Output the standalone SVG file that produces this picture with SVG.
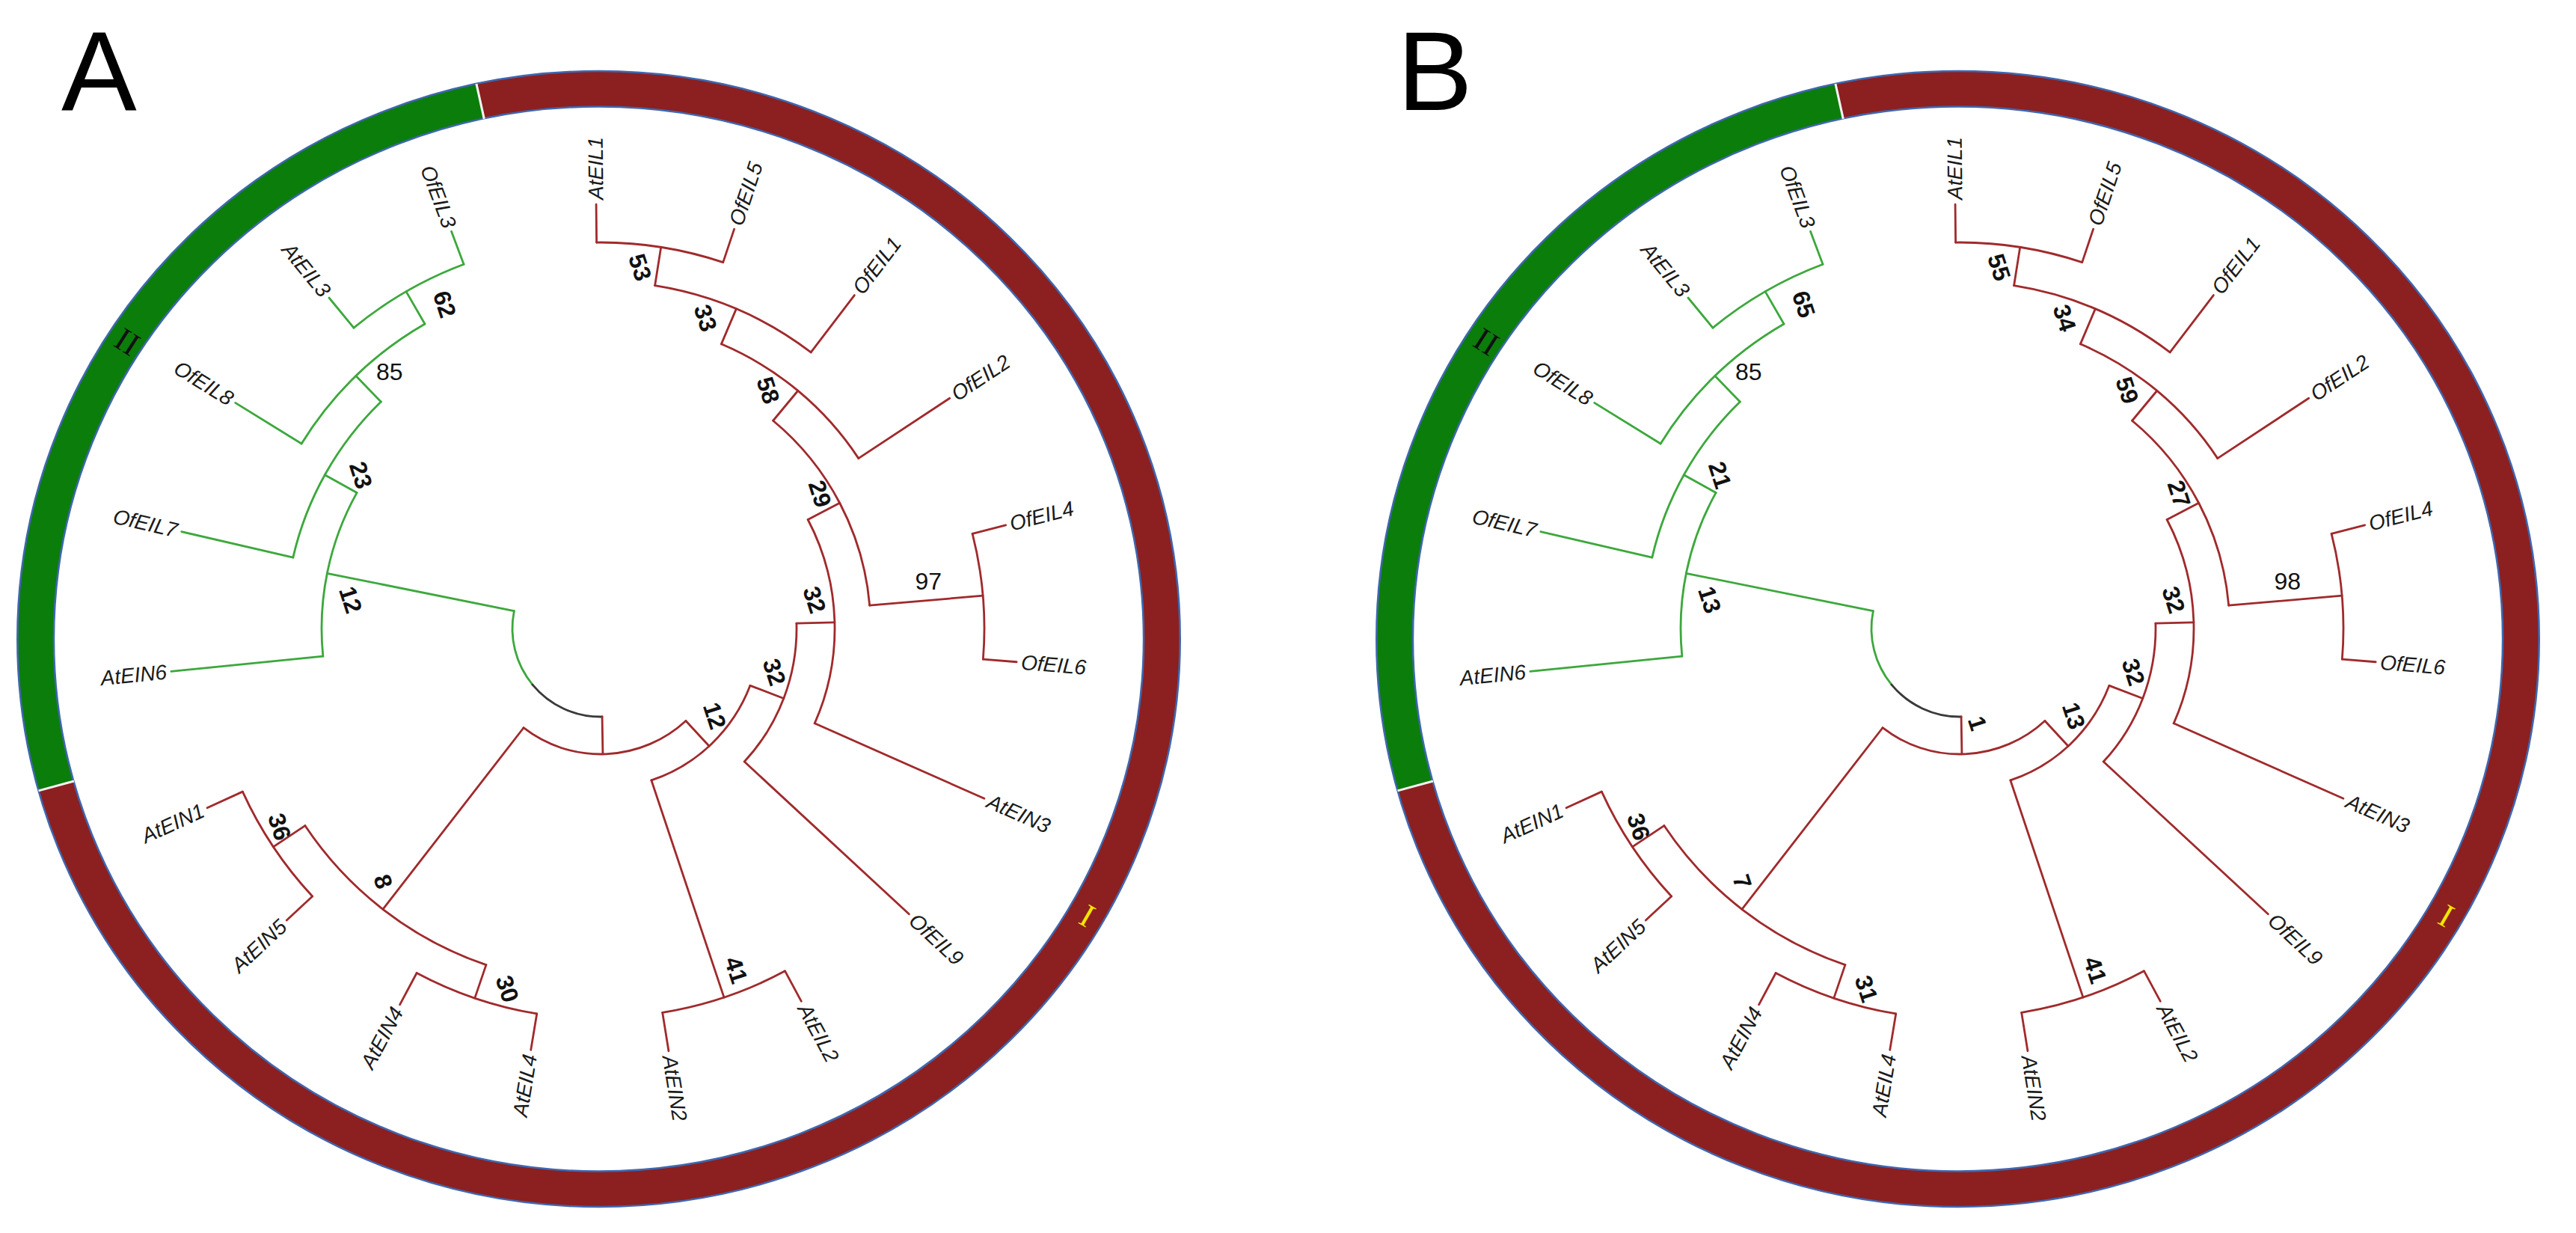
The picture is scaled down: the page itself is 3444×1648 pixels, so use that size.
<svg xmlns="http://www.w3.org/2000/svg" width="3444" height="1648" viewBox="0 0 3444 1648">
<defs>
<style>
.g{stroke:#3ca83c}
.r{stroke:#a02a2c}
.k{stroke:#3a3a3a}
.br line,.br circle{fill:none;stroke-width:2.8;stroke-linecap:round}
.leaf{font-family:"Liberation Sans",Arial,sans-serif;font-style:italic;font-size:28px;fill:#1a1a1a;dominant-baseline:central}
.bs{font-family:"Liberation Sans",Arial,sans-serif;font-weight:bold;font-size:32px;fill:#111;text-anchor:middle;dominant-baseline:central}
.bn{font-family:"Liberation Sans",Arial,sans-serif;font-size:32px;fill:#111;text-anchor:middle;dominant-baseline:central}
.panel{font-family:"Liberation Sans",Arial,sans-serif;font-size:151px;fill:#000}
.ringred{fill:none;stroke:#8c1f1f;stroke-width:47}
.ringgreen{fill:none;stroke:#0b7d0b;stroke-width:47}
.ringedge{fill:none;stroke:#3f67b0;stroke-width:2.5}
.sep{stroke:#f4f4f4;stroke-width:3}
.clade{font-family:"Liberation Serif","Times New Roman",serif;font-size:44px;text-anchor:middle;dominant-baseline:central}
</style>
</defs>
<rect width="3444" height="1648" fill="#fff"/>

<!-- ================= PANEL A ================= -->
<g id="panelA">
<text class="panel" x="82" y="147">A</text>
<g id="A-ring" transform="translate(800.5,854) scale(1.024,1)">
<circle class="ringred" r="735.25"/>
<circle class="ringgreen" r="735.25" pathLength="360" stroke-dasharray="93.35 360" transform="rotate(164.5)"/>
<circle class="ringedge" r="759"/>
<circle class="ringedge" r="711.5"/>
<line class="sep" y1="-711" y2="-759" transform="rotate(254.5)"/>
<line class="sep" y1="-711" y2="-759" transform="rotate(347.85)"/>
</g>
<text id="A-clade-II" class="clade" fill="#111" transform="translate(170,457) rotate(32.8)">II</text>
<text id="A-clade-I" class="clade" fill="#f2e600" transform="translate(1453.5,1224) rotate(30)">I</text>

<g id="A-connectors" class="br" transform="translate(803,840)">
<g class="g">
<circle r="118" pathLength="360" stroke-dasharray="50.9 360" transform="rotate(140.5)"/>
<line y1="-118" y2="-373" transform="rotate(281.4)"/>
<circle r="373" pathLength="360" stroke-dasharray="34.8 360" transform="rotate(174.3)"/>
<line y1="-373" y2="-577" transform="rotate(264.3)"/>
<line y1="-373" y2="-422" transform="rotate(299.1)"/>
<circle r="422" pathLength="360" stroke-dasharray="32.9 360" transform="rotate(193)"/>
<line y1="-422" y2="-575" transform="rotate(283)"/>
<line y1="-422" y2="-470" transform="rotate(315.9)"/>
<circle r="470" pathLength="360" stroke-dasharray="28.3 360" transform="rotate(211.7)"/>
<line y1="-470" y2="-574" transform="rotate(301.7)"/>
<line y1="-470" y2="-520" transform="rotate(330)"/>
<circle r="520" pathLength="360" stroke-dasharray="18.8 360" transform="rotate(230.6)"/>
<line y1="-520" y2="-572" transform="rotate(320.6)"/>
<line y1="-520" y2="-567" transform="rotate(339.4)"/>
</g>
<g class="k"><circle r="118" pathLength="360" stroke-dasharray="51.5 360" transform="rotate(89)"/></g>
<g class="r">
<line y1="-118" y2="-168" transform="rotate(179)"/>
<circle r="168" pathLength="360" stroke-dasharray="80.5 360" transform="rotate(47.3)"/>
<line y1="-168" y2="-475" transform="rotate(217.8)"/>
<circle r="475" pathLength="360" stroke-dasharray="37.5 360" transform="rotate(108.8)"/>
<line y1="-475" y2="-522" transform="rotate(198.8)"/>
<circle r="522" pathLength="360" stroke-dasharray="18.7 360" transform="rotate(99.4)"/>
<line y1="-522" y2="-571" transform="rotate(189.4)"/>
<line y1="-522" y2="-570" transform="rotate(208.1)"/>
<line y1="-475" y2="-526" transform="rotate(236.3)"/>
<circle r="526" pathLength="360" stroke-dasharray="18.4 360" transform="rotate(137.1)"/>
<line y1="-526" y2="-573" transform="rotate(227.1)"/>
<line y1="-526" y2="-578" transform="rotate(245.5)"/>
<line y1="-168" y2="-214" transform="rotate(137.3)"/>
<circle r="214" pathLength="360" stroke-dasharray="50.6 360" transform="rotate(20.9)"/>
<line y1="-214" y2="-520" transform="rotate(161.5)"/>
<circle r="520" pathLength="360" stroke-dasharray="19.15 360" transform="rotate(61.7)"/>
<line y1="-520" y2="-566" transform="rotate(151.7)"/>
<line y1="-520" y2="-572" transform="rotate(170.85)"/>
<line y1="-214" y2="-262" transform="rotate(110.9)"/>
<circle r="262" pathLength="360" stroke-dasharray="44.3 360" transform="rotate(-1.5)"/>
<line y1="-262" y2="-562" transform="rotate(132.8)"/>
<line y1="-262" y2="-313" transform="rotate(88.5)"/>
<circle r="313" pathLength="360" stroke-dasharray="51.6 360" transform="rotate(-27.7)"/>
<line y1="-313" y2="-561" transform="rotate(113.9)"/>
<line y1="-313" y2="-361" transform="rotate(62.3)"/>
<circle r="361" pathLength="360" stroke-dasharray="45.4 360" transform="rotate(-50.3)"/>
<line y1="-361" y2="-513" transform="rotate(85.1)"/>
<circle r="513" pathLength="360" stroke-dasharray="18.9 360" transform="rotate(-14.3)"/>
<line y1="-513" y2="-559" transform="rotate(75.7)"/>
<line y1="-513" y2="-558" transform="rotate(94.6)"/>
<line y1="-361" y2="-413" transform="rotate(39.7)"/>
<circle r="413" pathLength="360" stroke-dasharray="33.6 360" transform="rotate(-67)"/>
<line y1="-413" y2="-559" transform="rotate(56.6)"/>
<line y1="-413" y2="-464" transform="rotate(23)"/>
<circle r="464" pathLength="360" stroke-dasharray="28.3 360" transform="rotate(-81)"/>
<line y1="-464" y2="-560" transform="rotate(37.3)"/>
<line y1="-464" y2="-516" transform="rotate(9)"/>
<circle r="516" pathLength="360" stroke-dasharray="19.1 360" transform="rotate(-90.6)"/>
<line y1="-516" y2="-567" transform="rotate(-0.6)"/>
<line y1="-516" y2="-563" transform="rotate(18.5)"/>
</g>
</g>

<g id="A-leaves" transform="translate(803,840)">
<g id="A-AtEIL1"><text class="leaf" transform="rotate(-90.6) translate(573,0)">AtEIL1</text></g>
<g id="A-OfEIL5"><text class="leaf" transform="rotate(-71.5) translate(569,0)">OfEIL5</text></g>
<g id="A-OfEIL1"><text class="leaf" transform="rotate(-52.7) translate(566,0)">OfEIL1</text></g>
<g id="A-OfEIL2"><text class="leaf" transform="rotate(-33.4) translate(565,0)">OfEIL2</text></g>
<g id="A-OfEIL4"><text class="leaf" transform="rotate(-14.3) translate(565,0)">OfEIL4</text></g>
<g id="A-OfEIL6"><text class="leaf" transform="rotate(4.6) translate(564,0)">OfEIL6</text></g>
<g id="A-AtEIN3"><text class="leaf" transform="rotate(23.9) translate(567,0)">AtEIN3</text></g>
<g id="A-OfEIL9"><text class="leaf" transform="rotate(42.8) translate(568,0)">OfEIL9</text></g>
<g id="A-AtEIL2"><text class="leaf" transform="rotate(61.7) translate(572,0)">AtEIL2</text></g>
<g id="A-AtEIN2"><text class="leaf" transform="rotate(80.85) translate(578,0)">AtEIN2</text></g>
<g id="A-AtEIL4"><text class="leaf" text-anchor="end" transform="rotate(279.4) translate(-577,0)">AtEIL4</text></g>
<g id="A-AtEIN4"><text class="leaf" text-anchor="end" transform="rotate(298.1) translate(-576,0)">AtEIN4</text></g>
<g id="A-AtEIN5"><text class="leaf" text-anchor="end" transform="rotate(317.1) translate(-579,0)">AtEIN5</text></g>
<g id="A-AtEIN1"><text class="leaf" text-anchor="end" transform="rotate(335.5) translate(-584,0)">AtEIN1</text></g>
<g id="A-AtEIN6"><text class="leaf" text-anchor="end" transform="rotate(354.3) translate(-583,0)">AtEIN6</text></g>
<g id="A-OfEIL7"><text class="leaf" text-anchor="end" transform="rotate(13) translate(-581,0)">OfEIL7</text></g>
<g id="A-OfEIL8"><text class="leaf" text-anchor="end" transform="rotate(31.7) translate(-580,0)">OfEIL8</text></g>
<g id="A-AtEIL3"><text class="leaf" text-anchor="end" transform="rotate(50.6) translate(-578,0)">AtEIL3</text></g>
<g id="A-OfEIL3"><text class="leaf" text-anchor="end" transform="rotate(69.4) translate(-573,0)">OfEIL3</text></g>
</g>

<g id="A-support">
<text class="bs" transform="translate(855.6,357.3) rotate(72)">53</text>
<text class="bs" transform="translate(943.3,425) rotate(72)">33</text>
<text class="bs" transform="translate(1026.9,521.7) rotate(72)">58</text>
<text class="bs" transform="translate(1096.3,660) rotate(72)">29</text>
<text class="bn" x="1241.2" y="776.7">97</text>
<text class="bs" transform="translate(1089,801.7) rotate(72)">32</text>
<text class="bs" transform="translate(1035.1,898.3) rotate(72)">32</text>
<text class="bs" transform="translate(955.5,956.7) rotate(72)">12</text>
<text class="bs" transform="translate(984.1,1296.7) rotate(72)">41</text>
<text class="bs" transform="translate(512.1,1178.3) rotate(72)">8</text>
<text class="bs" transform="translate(373.7,1105) rotate(72)">36</text>
<text class="bs" transform="translate(678.2,1321.7) rotate(72)">30</text>
<text class="bs" transform="translate(468.6,801.7) rotate(72)">12</text>
<text class="bs" transform="translate(482.5,635) rotate(72)">23</text>
<text class="bn" x="520.8" y="496.7">85</text>
<text class="bs" transform="translate(594.4,406.7) rotate(72)">62</text>
</g>
</g>

<!-- ================= PANEL B ================= -->
<g id="panelB">
<text class="panel" x="1868" y="147">B</text>
<g id="B-ring" transform="translate(2617.5,854) scale(1.024,1)">
<circle class="ringred" r="735.25"/>
<circle class="ringgreen" r="735.25" pathLength="360" stroke-dasharray="93.35 360" transform="rotate(164.5)"/>
<circle class="ringedge" r="759"/>
<circle class="ringedge" r="711.5"/>
<line class="sep" y1="-711" y2="-759" transform="rotate(254.5)"/>
<line class="sep" y1="-711" y2="-759" transform="rotate(347.85)"/>
</g>
<text id="B-clade-II" class="clade" fill="#111" transform="translate(1987,457) rotate(32.8)">II</text>
<text id="B-clade-I" class="clade" fill="#f2e600" transform="translate(3270.5,1224) rotate(30)">I</text>

<g id="B-connectors" class="br" transform="translate(2620,840)">
<g class="g">
<circle r="118" pathLength="360" stroke-dasharray="50.9 360" transform="rotate(140.5)"/>
<line y1="-118" y2="-373" transform="rotate(281.4)"/>
<circle r="373" pathLength="360" stroke-dasharray="34.8 360" transform="rotate(174.3)"/>
<line y1="-373" y2="-577" transform="rotate(264.3)"/>
<line y1="-373" y2="-422" transform="rotate(299.1)"/>
<circle r="422" pathLength="360" stroke-dasharray="32.9 360" transform="rotate(193)"/>
<line y1="-422" y2="-575" transform="rotate(283)"/>
<line y1="-422" y2="-470" transform="rotate(315.9)"/>
<circle r="470" pathLength="360" stroke-dasharray="28.3 360" transform="rotate(211.7)"/>
<line y1="-470" y2="-574" transform="rotate(301.7)"/>
<line y1="-470" y2="-520" transform="rotate(330)"/>
<circle r="520" pathLength="360" stroke-dasharray="18.8 360" transform="rotate(230.6)"/>
<line y1="-520" y2="-572" transform="rotate(320.6)"/>
<line y1="-520" y2="-567" transform="rotate(339.4)"/>
</g>
<g class="k"><circle r="118" pathLength="360" stroke-dasharray="51.5 360" transform="rotate(89)"/></g>
<g class="r">
<line y1="-118" y2="-168" transform="rotate(179)"/>
<circle r="168" pathLength="360" stroke-dasharray="80.5 360" transform="rotate(47.3)"/>
<line y1="-168" y2="-475" transform="rotate(217.8)"/>
<circle r="475" pathLength="360" stroke-dasharray="37.5 360" transform="rotate(108.8)"/>
<line y1="-475" y2="-522" transform="rotate(198.8)"/>
<circle r="522" pathLength="360" stroke-dasharray="18.7 360" transform="rotate(99.4)"/>
<line y1="-522" y2="-571" transform="rotate(189.4)"/>
<line y1="-522" y2="-570" transform="rotate(208.1)"/>
<line y1="-475" y2="-526" transform="rotate(236.3)"/>
<circle r="526" pathLength="360" stroke-dasharray="18.4 360" transform="rotate(137.1)"/>
<line y1="-526" y2="-573" transform="rotate(227.1)"/>
<line y1="-526" y2="-578" transform="rotate(245.5)"/>
<line y1="-168" y2="-214" transform="rotate(137.3)"/>
<circle r="214" pathLength="360" stroke-dasharray="50.6 360" transform="rotate(20.9)"/>
<line y1="-214" y2="-520" transform="rotate(161.5)"/>
<circle r="520" pathLength="360" stroke-dasharray="19.15 360" transform="rotate(61.7)"/>
<line y1="-520" y2="-566" transform="rotate(151.7)"/>
<line y1="-520" y2="-572" transform="rotate(170.85)"/>
<line y1="-214" y2="-262" transform="rotate(110.9)"/>
<circle r="262" pathLength="360" stroke-dasharray="44.3 360" transform="rotate(-1.5)"/>
<line y1="-262" y2="-562" transform="rotate(132.8)"/>
<line y1="-262" y2="-313" transform="rotate(88.5)"/>
<circle r="313" pathLength="360" stroke-dasharray="51.6 360" transform="rotate(-27.7)"/>
<line y1="-313" y2="-561" transform="rotate(113.9)"/>
<line y1="-313" y2="-361" transform="rotate(62.3)"/>
<circle r="361" pathLength="360" stroke-dasharray="45.4 360" transform="rotate(-50.3)"/>
<line y1="-361" y2="-513" transform="rotate(85.1)"/>
<circle r="513" pathLength="360" stroke-dasharray="18.9 360" transform="rotate(-14.3)"/>
<line y1="-513" y2="-559" transform="rotate(75.7)"/>
<line y1="-513" y2="-558" transform="rotate(94.6)"/>
<line y1="-361" y2="-413" transform="rotate(39.7)"/>
<circle r="413" pathLength="360" stroke-dasharray="33.6 360" transform="rotate(-67)"/>
<line y1="-413" y2="-559" transform="rotate(56.6)"/>
<line y1="-413" y2="-464" transform="rotate(23)"/>
<circle r="464" pathLength="360" stroke-dasharray="28.3 360" transform="rotate(-81)"/>
<line y1="-464" y2="-560" transform="rotate(37.3)"/>
<line y1="-464" y2="-516" transform="rotate(9)"/>
<circle r="516" pathLength="360" stroke-dasharray="19.1 360" transform="rotate(-90.6)"/>
<line y1="-516" y2="-567" transform="rotate(-0.6)"/>
<line y1="-516" y2="-563" transform="rotate(18.5)"/>
</g>
</g>

<g id="B-leaves" transform="translate(2620,840)">
<g id="B-AtEIL1"><text class="leaf" transform="rotate(-90.6) translate(573,0)">AtEIL1</text></g>
<g id="B-OfEIL5"><text class="leaf" transform="rotate(-71.5) translate(569,0)">OfEIL5</text></g>
<g id="B-OfEIL1"><text class="leaf" transform="rotate(-52.7) translate(566,0)">OfEIL1</text></g>
<g id="B-OfEIL2"><text class="leaf" transform="rotate(-33.4) translate(565,0)">OfEIL2</text></g>
<g id="B-OfEIL4"><text class="leaf" transform="rotate(-14.3) translate(565,0)">OfEIL4</text></g>
<g id="B-OfEIL6"><text class="leaf" transform="rotate(4.6) translate(564,0)">OfEIL6</text></g>
<g id="B-AtEIN3"><text class="leaf" transform="rotate(23.9) translate(567,0)">AtEIN3</text></g>
<g id="B-OfEIL9"><text class="leaf" transform="rotate(42.8) translate(568,0)">OfEIL9</text></g>
<g id="B-AtEIL2"><text class="leaf" transform="rotate(61.7) translate(572,0)">AtEIL2</text></g>
<g id="B-AtEIN2"><text class="leaf" transform="rotate(80.85) translate(578,0)">AtEIN2</text></g>
<g id="B-AtEIL4"><text class="leaf" text-anchor="end" transform="rotate(279.4) translate(-577,0)">AtEIL4</text></g>
<g id="B-AtEIN4"><text class="leaf" text-anchor="end" transform="rotate(298.1) translate(-576,0)">AtEIN4</text></g>
<g id="B-AtEIN5"><text class="leaf" text-anchor="end" transform="rotate(317.1) translate(-579,0)">AtEIN5</text></g>
<g id="B-AtEIN1"><text class="leaf" text-anchor="end" transform="rotate(335.5) translate(-584,0)">AtEIN1</text></g>
<g id="B-AtEIN6"><text class="leaf" text-anchor="end" transform="rotate(354.3) translate(-583,0)">AtEIN6</text></g>
<g id="B-OfEIL7"><text class="leaf" text-anchor="end" transform="rotate(13) translate(-581,0)">OfEIL7</text></g>
<g id="B-OfEIL8"><text class="leaf" text-anchor="end" transform="rotate(31.7) translate(-580,0)">OfEIL8</text></g>
<g id="B-AtEIL3"><text class="leaf" text-anchor="end" transform="rotate(50.6) translate(-578,0)">AtEIL3</text></g>
<g id="B-OfEIL3"><text class="leaf" text-anchor="end" transform="rotate(69.4) translate(-573,0)">OfEIL3</text></g>
</g>

<g id="B-support" transform="translate(1817,0)">
<text class="bs" transform="translate(855.6,357.3) rotate(72)">55</text>
<text class="bs" transform="translate(943.3,425) rotate(72)">34</text>
<text class="bs" transform="translate(1026.9,521.7) rotate(72)">59</text>
<text class="bs" transform="translate(1096.3,660) rotate(72)">27</text>
<text class="bn" x="1241.2" y="776.7">98</text>
<text class="bs" transform="translate(1089,801.7) rotate(72)">32</text>
<text class="bs" transform="translate(1035.1,898.3) rotate(72)">32</text>
<text class="bs" transform="translate(955.5,956.7) rotate(72)">13</text>
<text class="bs" transform="translate(826.6,966.9) rotate(72)">1</text>
<text class="bs" transform="translate(984.1,1296.7) rotate(72)">41</text>
<text class="bs" transform="translate(512.1,1178.3) rotate(72)">7</text>
<text class="bs" transform="translate(373.7,1105) rotate(72)">36</text>
<text class="bs" transform="translate(678.2,1321.7) rotate(72)">31</text>
<text class="bs" transform="translate(468.6,801.7) rotate(72)">13</text>
<text class="bs" transform="translate(482.5,635) rotate(72)">21</text>
<text class="bn" x="520.8" y="496.7">85</text>
<text class="bs" transform="translate(594.4,406.7) rotate(72)">65</text>
</g>
</g>
</svg>
